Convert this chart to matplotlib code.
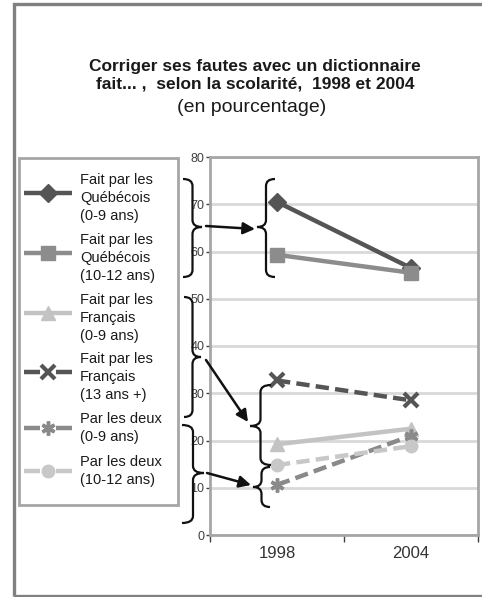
import numpy as np
import matplotlib
matplotlib.use("Agg")
import matplotlib.pyplot as plt
from matplotlib.lines import Line2D
from matplotlib.patches import Rectangle, PathPatch, FancyArrowPatch
from matplotlib.path import Path

plt.rcParams['font.family'] = ['Liberation Sans', 'DejaVu Sans']

W, H = 482, 597

years = ['1998', '2004']
labels = [
    'Fait par les\nQuébécois\n(0-9 ans)',
    'Fait par les\nQuébécois\n(10-12 ans)',
    'Fait par les\nFrançais\n(0-9 ans)',
    'Fait par les\nFrançais\n(13 ans +)',
    'Par les deux\n(0-9 ans)',
    'Par les deux\n(10-12 ans)',
]
quebec_0_9 = [70.5, 56.5]
quebec_10_12 = [59.3, 55.5]
france_0_9 = [19.2, 22.5]
france_13 = [32.7, 28.5]
deux_0_9 = [10.6, 21.0]
deux_10_12 = [14.8, 18.8]

series = [quebec_0_9, quebec_10_12, france_0_9, france_13, deux_0_9, deux_10_12]
colors = ['#555555', '#8c8c8c', '#c3c3c3', '#555555', '#8a8a8a', '#c8c8c8']
styles = ['-', '-', '-', (0, (3, 1.4)), (0, (3, 1.4)), (0, (3, 1.4))]
markers = ['D', 's', '^', 'x', (6, 2, 0), 'o']
msizes = [9, 10, 10, 10, 10, 9]
mews = [1, 1, 1, 3, 2.5, 1]


def px(x, y):
    # pixel position (from top-left) -> figure fraction
    return x / W, 1 - y / H


fig = plt.figure(figsize=(W / 100, H / 100), dpi=100)

# outer frame
fig.patches.append(Rectangle(px(14, 596), (W + 10) / W, 592 / H,
                             transform=fig.transFigure, fill=False,
                             edgecolor='#808080', lw=2.4))

# titles
fig.text(*px(255, 67), 'Corriger ses fautes avec un dictionnaire',
         ha='center', va='center', fontsize=12.5, fontweight='bold', color='#1a1a1a')
fig.text(*px(255, 84), 'fait... ,  selon la scolarité,  1998 et 2004',
         ha='center', va='center', fontsize=12.5, fontweight='bold', color='#1a1a1a')
fig.text(*px(252, 107), '(en pourcentage)', ha='center', va='center',
         fontsize=14, color='#1a1a1a')

# chart area
x0, y0 = px(210, 535)
x1, y1 = px(478, 157)
ax = fig.add_axes([x0, y0, x1 - x0, y1 - y0])
xs = np.arange(len(years))
for vals, c, ls, m, ms, mew in zip(series, colors, styles, markers, msizes, mews):
    ax.plot(xs, vals, color=c, ls=ls, lw=3.2, marker=m, ms=ms,
            mec=c, mfc=c, mew=mew, zorder=3)

ax.set_xlim(-0.5, 1.5)
ax.set_ylim(0, 80)
ax.set_yticks(np.arange(0, 81, 10))
ax.tick_params(axis='y', length=3, width=1, pad=1, labelsize=9,
               labelcolor='#404040', color='#404040')
ax.set_xticks([-0.5, 0.5, 1.5])
ax.set_xticklabels([])
ax.set_xticks(xs, minor=True)
ax.set_xticklabels(years, minor=True, fontsize=12, color='#333333')
ax.tick_params(axis='x', which='major', length=5, width=1, color='#404040')
ax.tick_params(axis='x', which='minor', length=0, pad=8)
ax.yaxis.grid(True, color='#d9d9d9', lw=2)
ax.set_axisbelow(True)
for sp in ax.spines.values():
    sp.set_color('#a6a6a6')
    sp.set_linewidth(2)

# legend box drawn by hand
fig.patches.append(Rectangle(px(19, 505), 159 / W, 347 / H,
                             transform=fig.transFigure, fill=False,
                             edgecolor='#a6a6a6', lw=2))
entry_y = [198, 258, 318, 377, 428, 471]
for lab, ey, c, ls, m, ms, mew in zip(labels, entry_y, colors, styles,
                                       markers, msizes, mews):
    hy = ey - 5 if lab.count('\n') == 2 else ey
    if ls == '-':
        segs = [(24, 72)]
    else:
        segs = [(24, 40), (56, 72)]
    for sa, sb in segs:
        (xa, ly), (xb, _) = px(sa, hy), px(sb, hy)
        fig.lines.append(Line2D([xa, xb], [ly, ly], transform=fig.transFigure,
                                color=c, lw=3.2, solid_capstyle='butt'))
    mx, my = px(48, hy)
    fig.lines.append(Line2D([mx], [my], transform=fig.transFigure,
                            color=c, marker=m, ms=ms, mec=c, mfc=c, mew=mew))
    fig.text(*px(80, ey), lab, ha='left', va='center', fontsize=10.5,
             color='#1a1a1a', linespacing=1.33)


def brace(xl, xr, ya, yb, ym):
    # curly brace, hooks at xl, point at xr (works facing either way)
    xm = (xl + xr) / 2
    d = 7
    verts = [(xl, ya), (xm, ya), (xm, ya + d),
             (xm, ym - d), (xm, ym), (xr, ym),
             (xm, ym), (xm, ym + d),
             (xm, yb - d), (xm, yb), (xl, yb)]
    codes = [Path.MOVETO, Path.CURVE3, Path.CURVE3,
             Path.LINETO, Path.CURVE3, Path.CURVE3,
             Path.CURVE3, Path.CURVE3,
             Path.LINETO, Path.CURVE3, Path.CURVE3]
    verts = [px(x, y) for x, y in verts]
    fig.patches.append(PathPatch(Path(verts, codes), transform=fig.transFigure,
                                 fill=False, edgecolor='#111111', lw=1.6))


def arrow(xa, ya, xb, yb):
    fig.patches.append(FancyArrowPatch(px(xa, ya), px(xb, yb),
                                       transform=fig.transFigure,
                                       arrowstyle='-|>,head_length=7,head_width=3.5',
                                       color='#111111', lw=1.8,
                                       shrinkA=0, shrinkB=0))


brace(183, 202, 179, 277, 227)
brace(275, 257, 179, 277, 227)
arrow(206, 226, 255, 229)

brace(184, 201, 297, 417, 357)
brace(271, 250, 385, 465, 426)
arrow(206, 360, 248, 422)

brace(182, 204, 425, 523, 473)
brace(270, 253, 467, 507, 487)
arrow(207, 473, 251, 485)

fig.savefig('out.png', dpi=100)
